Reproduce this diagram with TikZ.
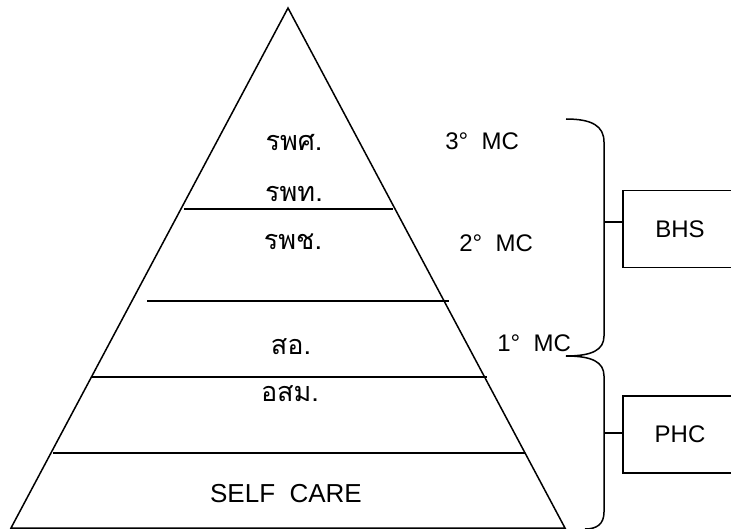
\documentclass[tikz,border=0pt]{standalone}
\usepackage{fontspec}
\setmainfont{Liberation Sans}
\newfontfamily\thaifont[Script=Thai]{Loma}
\begin{document}
\begin{tikzpicture}[x=1pt,y=-1pt,line width=1.5pt,
  thai/.style={font=\thaifont\fontsize{27}{27}\selectfont},
  latin/.style={font=\fontsize{24}{24}\selectfont},
  sidebox/.style={draw,line width=1.5pt,minimum width=114pt,minimum height=77pt,font=\fontsize{24}{24}\selectfont,inner sep=0pt}]
\useasboundingbox (0,0) rectangle (731,529);
% pyramid
\coordinate (apex) at (288,8);
\coordinate (bl) at (11,528);
\coordinate (br) at (565,528);
\draw[line join=miter] (bl) -- (apex) -- (br) -- cycle;
\draw (184,209) -- (393,209);
\draw (147,301) -- (449,301);
\draw (91,377) -- (487,377);
\draw (53,453) -- (525,453);
% labels in pyramid
\node[thai] (t1) at (294,142) {รพศ.};
\node[thai] (t2) at (294,194) {รพท.};
\node[thai] (t3) at (293,242) {รพช.};
\node[thai] (t4) at (291,347) {สอ.};
\node[thai] (t5) at (290,394) {อสม.};
\node[latin,font=\fontsize{26}{26}\selectfont] (t6) at (286,494) {SELF\ \ CARE};
% level labels
\node[latin,anchor=east] (m3) at (523,141) {3°\ \ MC};
\node[latin,anchor=east] (m2) at (537,243) {2°\ \ MC};
\node[latin,anchor=east] (m1) at (575,343) {1°\ \ MC};
% brace
\coordinate (btop) at (566,119);
\coordinate (btip) at (566,356);
\coordinate (bbot) at (585,529);
\coordinate (j1) at (604,222);
\coordinate (j2) at (604,433);
\draw (btop) .. controls (592,119) and (604,126) .. (604,142) -- (604,336)
  .. controls (604,350) and (592,356) .. (btip)
  .. controls (592,356) and (604,362) .. (604,376) -- (604,512)
  .. controls (604,524) and (597,529) .. (bbot);
% boxes
\node[sidebox] (bhs) at (680,229) {BHS};
\node[sidebox] (phc) at (680,434.5) {PHC};
\draw (j1) -- (j1 -| bhs.west);
\draw (j2) -- (j2 -| phc.west);
\end{tikzpicture}
\end{document}
